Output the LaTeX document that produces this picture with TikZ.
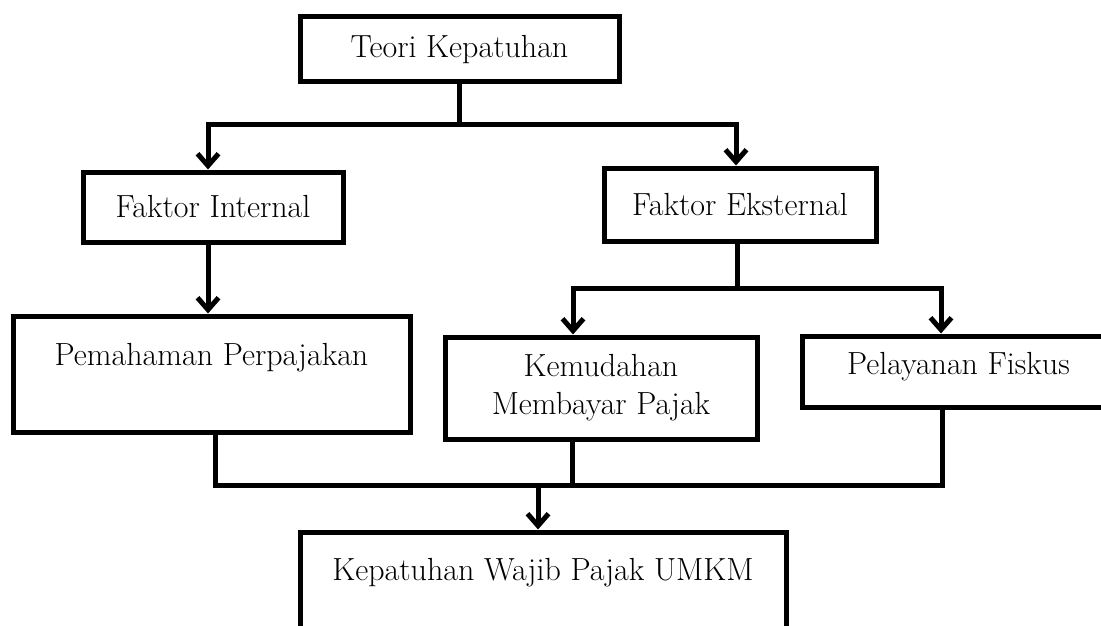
\documentclass[tikz,border=0pt]{standalone}
\usepackage{fontspec}
\setmainfont{Latin Modern Roman}
\usetikzlibrary{arrows.meta,fit}
\tikzset{
  kotak/.style={draw, line width=5pt, inner sep=0pt},
  teks/.style={inner sep=0pt, font=\fontsize{32}{38}\selectfont},
  garis/.style={line width=5pt},
  panah/.style={line width=5pt, -{Straight Barb[length=12pt,width=21pt,line width=5pt]}},
}
\begin{document}
\begin{tikzpicture}[x=1pt, y=-1pt]
\path[use as bounding box, clip] (0,0) rectangle (1101,626);
% kotak-kotak
\node[kotak, fit={(300,17) (619,82)}] (teori) {};
\node[teks] (tteori) at (teori.center) {Teori Kepatuhan};
\node[kotak, fit={(83,172) (343,242)}] (internal) {};
\node[teks] (tinternal) at (internal.center) {Faktor Internal};
\node[kotak, fit={(604,168) (876,241)}] (eksternal) {};
\node[teks] (teksternal) at (eksternal.center) {Faktor Eksternal};
\node[kotak, fit={(13,316) (410,432)}] (pemahaman) {};
\node[teks] (tpemahaman) at ([yshift=-44pt]pemahaman.north) {Pemahaman Perpajakan};
\node[kotak, fit={(445,337) (757,439)}] (kemudahan) {};
\node[teks, align=center] (tkemudahan) at ([yshift=0pt]kemudahan.center) {Kemudahan\\Membayar Pajak};
\node[kotak, fit={(802,336) (1115,407)}] (pelayanan) {};
\node[teks] (tpelayanan) at ([yshift=5pt]pelayanan.center) {Pelayanan Fiskus};
\node[kotak, fit={(300,532) (786,660)}] (kepatuhan) {};
\node[teks] (tkepatuhan) at ([yshift=-43pt]kepatuhan.north) {Kepatuhan Wajib Pajak UMKM};
% panah atas
\draw[garis] (teori.south) -- (teori.south |- 0,124) coordinate (t1);
\draw[panah] (t1) -| (208,0 |- internal.north);
\draw[panah] (t1) -| (736,0 |- eksternal.north);
\draw[panah] (208,0 |- internal.south) -- (208,0 |- pemahaman.north);
% cabang eksternal
\draw[garis] (737,0 |- eksternal.south) -- (737,288) coordinate (e1);
\draw[panah] (e1) -| (573,0 |- kemudahan.north);
\draw[panah] (e1) -| (941,0 |- pelayanan.north);
% gabungan bawah
\draw[garis] (215,0 |- pemahaman.south) |- (942,485) -- (942,0 |- pelayanan.south);
\draw[garis] (572,0 |- kemudahan.south) -- (572,485);
\coordinate (k1) at (538,485);
\draw[panah] (k1) -- (k1 |- kepatuhan.north);
\end{tikzpicture}
\end{document}
